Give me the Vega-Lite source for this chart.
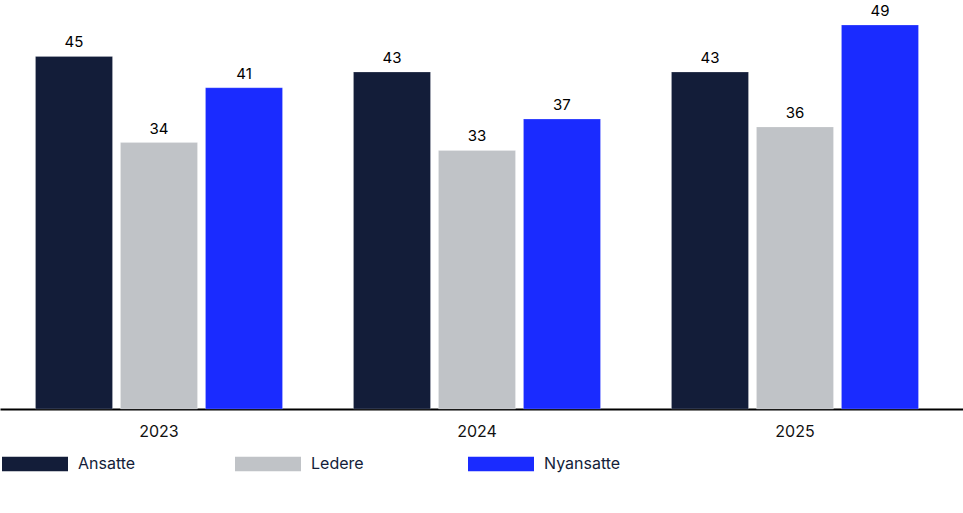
{
  "$schema": "https://vega.github.io/schema/vega-lite/v6.json",
  "autosize": {"type": "none"},
  "width": 963,
  "height": 409,
  "padding": {"left": 0, "top": 0, "right": 0, "bottom": 104},
  "background": "white",
  "config": {
    "view": {"stroke": null},
    "font": "Inter",
    "axis": {"labelFont": "Inter"},
    "legend": {"labelFont": "Inter"}
  },
  "data": {
    "values": [
      {"year": "2023", "group": "Ansatte", "value": 45},
      {"year": "2023", "group": "Ledere", "value": 34},
      {"year": "2023", "group": "Nyansatte", "value": 41},
      {"year": "2024", "group": "Ansatte", "value": 43},
      {"year": "2024", "group": "Ledere", "value": 33},
      {"year": "2024", "group": "Nyansatte", "value": 37},
      {"year": "2025", "group": "Ansatte", "value": 43},
      {"year": "2025", "group": "Ledere", "value": 36},
      {"year": "2025", "group": "Nyansatte", "value": 49}
    ]
  },
  "encoding": {
    "x": {
      "field": "year",
      "type": "nominal",
      "title": null,
      "scale": {"paddingInner": 0, "paddingOuter": 0.0142, "align": 0},
      "axis": {
        "labelAngle": 0,
        "ticks": false,
        "domainColor": "#000000",
        "domainWidth": 2,
        "labelFontSize": 16,
        "labelColor": "#111111",
        "labelPadding": 14
      }
    },
    "xOffset": {
      "field": "group",
      "type": "nominal",
      "scale": {"paddingInner": 0.094, "paddingOuter": 0.4176}
    },
    "y": {
      "field": "value",
      "type": "quantitative",
      "scale": {"domain": [0, 52.2], "nice": false},
      "axis": null
    }
  },
  "layer": [
    {
      "mark": {"type": "bar", "stroke": "#ffffff", "strokeWidth": 0.5, "strokeOpacity": 0.4},
      "encoding": {
        "color": {
          "field": "group",
          "type": "nominal",
          "title": null,
          "scale": {
            "domain": ["Ansatte", "Ledere", "Nyansatte"],
            "range": ["#131d39", "#c0c3c7", "#1a2bff"]
          },
          "legend": {
            "orient": "none",
            "legendX": 2,
            "legendY": 431,
            "direction": "horizontal",
            "columns": 3,
            "gridAlign": "all",
            "symbolType": "M-1,-0.22H1V0.22H-1Z",
            "symbolSize": 4356,
            "symbolStrokeWidth": 0,
            "labelOffset": 10,
            "labelFontSize": 16,
            "labelColor": "#131d39",
            "columnPadding": 80
          }
        }
      }
    },
    {
      "mark": {"type": "text", "baseline": "bottom", "dy": -6, "fontSize": 15, "color": "#000000"},
      "encoding": {
        "text": {"field": "value", "type": "quantitative"}
      }
    }
  ]
}
